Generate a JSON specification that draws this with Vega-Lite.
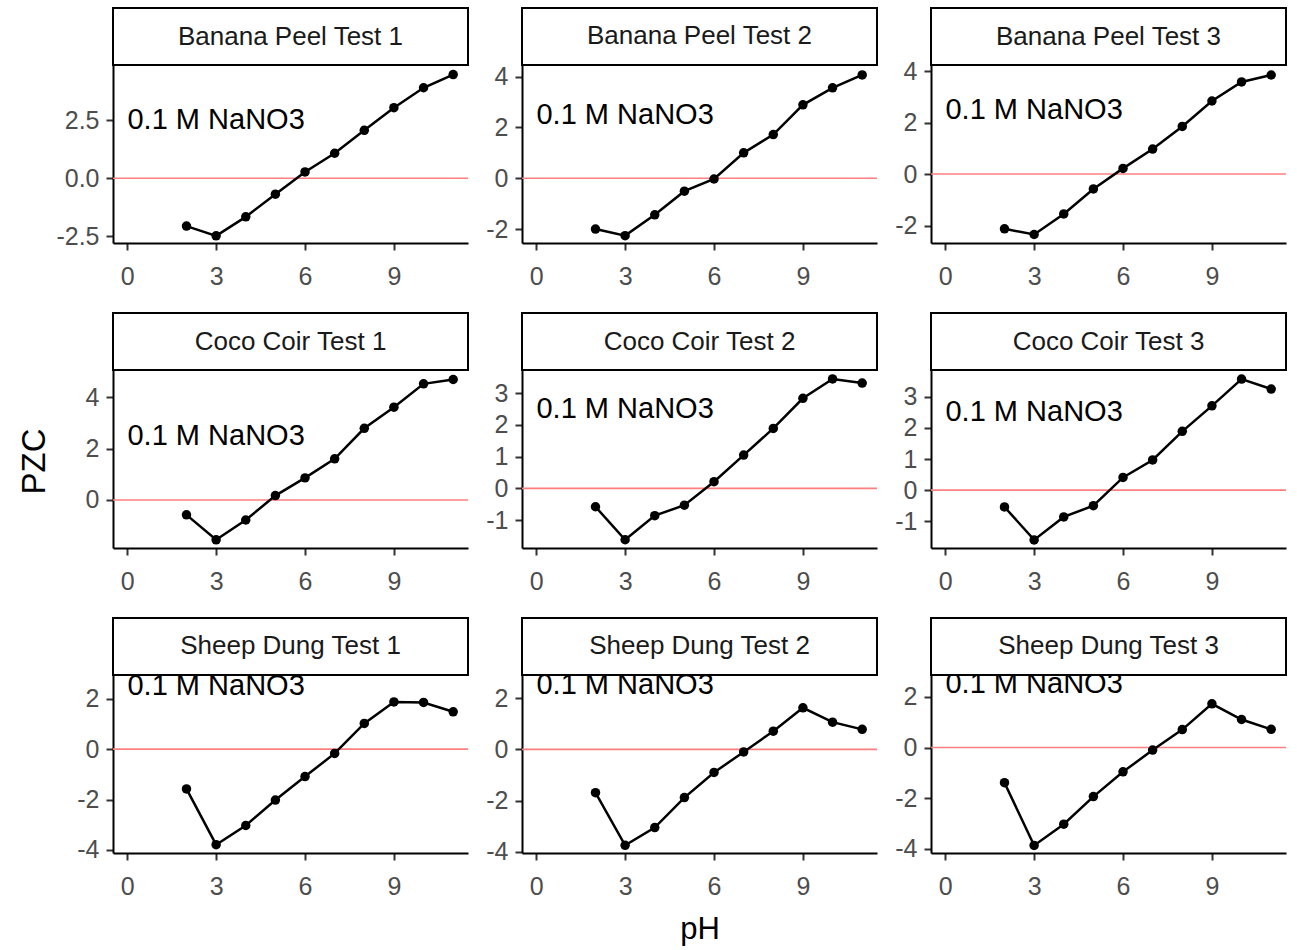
{
  "$schema": "https://vega.github.io/schema/vega-lite/v6.json",
  "background": "white",
  "padding": {"left": 18, "top": 7, "right": 5, "bottom": 5},
  "config": {
    "font": "Liberation Sans",
    "view": {"stroke": null},
    "axis": {
      "grid": false, "domainColor": "black", "domainWidth": 2,
      "tickColor": "#333333", "tickWidth": 2, "tickSize": 7,
      "labelColor": "#4D4D4D", "labelFontSize": 25, "labelFont": "Liberation Sans",
      "labelOverlap": false, "labelFlush": false,
      "titleFont": "Liberation Sans", "titleFontSize": 31, "titleFontWeight": "normal", "titleColor": "black"
    },
    "axisX": {"labelPadding": 14},
    "axisY": {"labelPadding": 7}
  },
  "datasets": {
    "panels": [
      {"panel": "Banana Peel Test 1", "note": "0.1 M NaNO3"},
      {"panel": "Banana Peel Test 2", "note": "0.1 M NaNO3"},
      {"panel": "Banana Peel Test 3", "note": "0.1 M NaNO3"},
      {"panel": "Coco Coir Test 1", "note": "0.1 M NaNO3"},
      {"panel": "Coco Coir Test 2", "note": "0.1 M NaNO3"},
      {"panel": "Coco Coir Test 3", "note": "0.1 M NaNO3"},
      {"panel": "Sheep Dung Test 1", "note": "0.1 M NaNO3"},
      {"panel": "Sheep Dung Test 2", "note": "0.1 M NaNO3"},
      {"panel": "Sheep Dung Test 3", "note": "0.1 M NaNO3"}
    ],
    "pzc": [
      {"panel": "Banana Peel Test 1", "pH": 2, "PZC": -2.07},
      {"panel": "Banana Peel Test 1", "pH": 3, "PZC": -2.49},
      {"panel": "Banana Peel Test 1", "pH": 4, "PZC": -1.67},
      {"panel": "Banana Peel Test 1", "pH": 5, "PZC": -0.69},
      {"panel": "Banana Peel Test 1", "pH": 6, "PZC": 0.27},
      {"panel": "Banana Peel Test 1", "pH": 7, "PZC": 1.08},
      {"panel": "Banana Peel Test 1", "pH": 8, "PZC": 2.07},
      {"panel": "Banana Peel Test 1", "pH": 9, "PZC": 3.05},
      {"panel": "Banana Peel Test 1", "pH": 10, "PZC": 3.91},
      {"panel": "Banana Peel Test 1", "pH": 11, "PZC": 4.48},
      {"panel": "Banana Peel Test 2", "pH": 2, "PZC": -2.0},
      {"panel": "Banana Peel Test 2", "pH": 3, "PZC": -2.26},
      {"panel": "Banana Peel Test 2", "pH": 4, "PZC": -1.44},
      {"panel": "Banana Peel Test 2", "pH": 5, "PZC": -0.51},
      {"panel": "Banana Peel Test 2", "pH": 6, "PZC": -0.03},
      {"panel": "Banana Peel Test 2", "pH": 7, "PZC": 1.0},
      {"panel": "Banana Peel Test 2", "pH": 8, "PZC": 1.72},
      {"panel": "Banana Peel Test 2", "pH": 9, "PZC": 2.89},
      {"panel": "Banana Peel Test 2", "pH": 10, "PZC": 3.56},
      {"panel": "Banana Peel Test 2", "pH": 11, "PZC": 4.07},
      {"panel": "Banana Peel Test 3", "pH": 2, "PZC": -2.13},
      {"panel": "Banana Peel Test 3", "pH": 3, "PZC": -2.35},
      {"panel": "Banana Peel Test 3", "pH": 4, "PZC": -1.55},
      {"panel": "Banana Peel Test 3", "pH": 5, "PZC": -0.58},
      {"panel": "Banana Peel Test 3", "pH": 6, "PZC": 0.22},
      {"panel": "Banana Peel Test 3", "pH": 7, "PZC": 0.97},
      {"panel": "Banana Peel Test 3", "pH": 8, "PZC": 1.85},
      {"panel": "Banana Peel Test 3", "pH": 9, "PZC": 2.84},
      {"panel": "Banana Peel Test 3", "pH": 10, "PZC": 3.58},
      {"panel": "Banana Peel Test 3", "pH": 11, "PZC": 3.85},
      {"panel": "Coco Coir Test 1", "pH": 2, "PZC": -0.58},
      {"panel": "Coco Coir Test 1", "pH": 3, "PZC": -1.55},
      {"panel": "Coco Coir Test 1", "pH": 4, "PZC": -0.78},
      {"panel": "Coco Coir Test 1", "pH": 5, "PZC": 0.17},
      {"panel": "Coco Coir Test 1", "pH": 6, "PZC": 0.86},
      {"panel": "Coco Coir Test 1", "pH": 7, "PZC": 1.6},
      {"panel": "Coco Coir Test 1", "pH": 8, "PZC": 2.79},
      {"panel": "Coco Coir Test 1", "pH": 9, "PZC": 3.61},
      {"panel": "Coco Coir Test 1", "pH": 10, "PZC": 4.52},
      {"panel": "Coco Coir Test 1", "pH": 11, "PZC": 4.69},
      {"panel": "Coco Coir Test 2", "pH": 2, "PZC": -0.58},
      {"panel": "Coco Coir Test 2", "pH": 3, "PZC": -1.62},
      {"panel": "Coco Coir Test 2", "pH": 4, "PZC": -0.86},
      {"panel": "Coco Coir Test 2", "pH": 5, "PZC": -0.53},
      {"panel": "Coco Coir Test 2", "pH": 6, "PZC": 0.21},
      {"panel": "Coco Coir Test 2", "pH": 7, "PZC": 1.05},
      {"panel": "Coco Coir Test 2", "pH": 8, "PZC": 1.89},
      {"panel": "Coco Coir Test 2", "pH": 9, "PZC": 2.84},
      {"panel": "Coco Coir Test 2", "pH": 10, "PZC": 3.45},
      {"panel": "Coco Coir Test 2", "pH": 11, "PZC": 3.32},
      {"panel": "Coco Coir Test 3", "pH": 2, "PZC": -0.54},
      {"panel": "Coco Coir Test 3", "pH": 3, "PZC": -1.6},
      {"panel": "Coco Coir Test 3", "pH": 4, "PZC": -0.86},
      {"panel": "Coco Coir Test 3", "pH": 5, "PZC": -0.5},
      {"panel": "Coco Coir Test 3", "pH": 6, "PZC": 0.41},
      {"panel": "Coco Coir Test 3", "pH": 7, "PZC": 0.97},
      {"panel": "Coco Coir Test 3", "pH": 8, "PZC": 1.89},
      {"panel": "Coco Coir Test 3", "pH": 9, "PZC": 2.71},
      {"panel": "Coco Coir Test 3", "pH": 10, "PZC": 3.57},
      {"panel": "Coco Coir Test 3", "pH": 11, "PZC": 3.25},
      {"panel": "Sheep Dung Test 1", "pH": 2, "PZC": -1.58},
      {"panel": "Sheep Dung Test 1", "pH": 3, "PZC": -3.79},
      {"panel": "Sheep Dung Test 1", "pH": 4, "PZC": -3.03},
      {"panel": "Sheep Dung Test 1", "pH": 5, "PZC": -2.02},
      {"panel": "Sheep Dung Test 1", "pH": 6, "PZC": -1.09},
      {"panel": "Sheep Dung Test 1", "pH": 7, "PZC": -0.17},
      {"panel": "Sheep Dung Test 1", "pH": 8, "PZC": 1.02},
      {"panel": "Sheep Dung Test 1", "pH": 9, "PZC": 1.87},
      {"panel": "Sheep Dung Test 1", "pH": 10, "PZC": 1.85},
      {"panel": "Sheep Dung Test 1", "pH": 11, "PZC": 1.48},
      {"panel": "Sheep Dung Test 2", "pH": 2, "PZC": -1.69},
      {"panel": "Sheep Dung Test 2", "pH": 3, "PZC": -3.74},
      {"panel": "Sheep Dung Test 2", "pH": 4, "PZC": -3.05},
      {"panel": "Sheep Dung Test 2", "pH": 5, "PZC": -1.88},
      {"panel": "Sheep Dung Test 2", "pH": 6, "PZC": -0.9},
      {"panel": "Sheep Dung Test 2", "pH": 7, "PZC": -0.1},
      {"panel": "Sheep Dung Test 2", "pH": 8, "PZC": 0.71},
      {"panel": "Sheep Dung Test 2", "pH": 9, "PZC": 1.62},
      {"panel": "Sheep Dung Test 2", "pH": 10, "PZC": 1.06},
      {"panel": "Sheep Dung Test 2", "pH": 11, "PZC": 0.78},
      {"panel": "Sheep Dung Test 3", "pH": 2, "PZC": -1.39},
      {"panel": "Sheep Dung Test 3", "pH": 3, "PZC": -3.87},
      {"panel": "Sheep Dung Test 3", "pH": 4, "PZC": -3.03},
      {"panel": "Sheep Dung Test 3", "pH": 5, "PZC": -1.94},
      {"panel": "Sheep Dung Test 3", "pH": 6, "PZC": -0.96},
      {"panel": "Sheep Dung Test 3", "pH": 7, "PZC": -0.1},
      {"panel": "Sheep Dung Test 3", "pH": 8, "PZC": 0.71},
      {"panel": "Sheep Dung Test 3", "pH": 9, "PZC": 1.73},
      {"panel": "Sheep Dung Test 3", "pH": 10, "PZC": 1.11},
      {"panel": "Sheep Dung Test 3", "pH": 11, "PZC": 0.72}
    ]
  },
  "columns": 3,
  "spacing": {"row": 70, "column": 54},
  "bounds": "flush",
  "concat": [
    {
      "width": 355, "height": 235,
      "layer": [
        {"data": {"name": "panels"}, "transform": [{"filter": "datum.panel === 'Banana Peel Test 1'"}], "mark": {"type": "rule", "color": "#FF7F7F", "strokeWidth": 1.6}, "encoding": {"y": {"datum": 0, "type": "quantitative"}}},
        {"data": {"name": "pzc"}, "transform": [{"filter": "datum.panel === 'Banana Peel Test 1'"}], "mark": {"type": "line", "color": "black", "strokeWidth": 2.5},
          "encoding": {
            "x": {"field": "pH", "type": "quantitative", "scale": {"domain": [-0.48, 11.5], "nice": false, "zero": false}, "axis": {"values": [0, 3, 6, 9], "title": null}},
            "y": {"field": "PZC", "type": "quantitative", "scale": {"domain": [-2.8, 7.357], "nice": false, "zero": false}, "axis": {"values": [-2.5, 0, 2.5], "format": ".1f", "labelExpr": "replace(datum.label, '\u2212', '-')", "title": null}}
          }},
        {"data": {"name": "pzc"}, "transform": [{"filter": "datum.panel === 'Banana Peel Test 1'"}], "mark": {"type": "point", "filled": true, "color": "black", "size": 90, "opacity": 1}, "encoding": {"x": {"field": "pH", "type": "quantitative"}, "y": {"field": "PZC", "type": "quantitative"}}},
        {"data": {"name": "panels"}, "transform": [{"filter": "datum.panel === 'Banana Peel Test 1'"}], "mark": {"type": "text", "fontSize": 29, "color": "black"}, "encoding": {"x": {"datum": 3, "type": "quantitative"}, "y": {"datum": 2.5, "type": "quantitative"}, "text": {"field": "note"}}},
        {"data": {"name": "panels"}, "transform": [{"filter": "datum.panel === 'Banana Peel Test 1'"}], "mark": {"type": "rect", "fill": "white", "stroke": "black", "strokeWidth": 2}, "encoding": {"x": {"datum": -0.48, "type": "quantitative"}, "x2": {"datum": 11.5}, "y": {"datum": 7.357, "type": "quantitative"}, "y2": {"datum": 4.893}}},
        {"data": {"name": "panels"}, "transform": [{"filter": "datum.panel === 'Banana Peel Test 1'"}], "mark": {"type": "text", "fontSize": 26, "color": "#1A1A1A"}, "encoding": {"x": {"datum": 5.51, "type": "quantitative"}, "y": {"datum": 6.125, "type": "quantitative"}, "text": {"field": "panel"}}}
      ]
    },
    {
      "width": 355, "height": 235,
      "layer": [
        {"data": {"name": "panels"}, "transform": [{"filter": "datum.panel === 'Banana Peel Test 2'"}], "mark": {"type": "rule", "color": "#FF7F7F", "strokeWidth": 1.6}, "encoding": {"y": {"datum": 0, "type": "quantitative"}}},
        {"data": {"name": "pzc"}, "transform": [{"filter": "datum.panel === 'Banana Peel Test 2'"}], "mark": {"type": "line", "color": "black", "strokeWidth": 2.5},
          "encoding": {
            "x": {"field": "pH", "type": "quantitative", "scale": {"domain": [-0.48, 11.5], "nice": false, "zero": false}, "axis": {"values": [0, 3, 6, 9], "title": null}},
            "y": {"field": "PZC", "type": "quantitative", "scale": {"domain": [-2.55, 6.704], "nice": false, "zero": false}, "axis": {"values": [-2, 0, 2, 4], "format": "d", "labelExpr": "replace(datum.label, '\u2212', '-')", "title": null}}
          }},
        {"data": {"name": "pzc"}, "transform": [{"filter": "datum.panel === 'Banana Peel Test 2'"}], "mark": {"type": "point", "filled": true, "color": "black", "size": 90, "opacity": 1}, "encoding": {"x": {"field": "pH", "type": "quantitative"}, "y": {"field": "PZC", "type": "quantitative"}}},
        {"data": {"name": "panels"}, "transform": [{"filter": "datum.panel === 'Banana Peel Test 2'"}], "mark": {"type": "text", "fontSize": 29, "color": "black"}, "encoding": {"x": {"datum": 3, "type": "quantitative"}, "y": {"datum": 2.5, "type": "quantitative"}, "text": {"field": "note"}}},
        {"data": {"name": "panels"}, "transform": [{"filter": "datum.panel === 'Banana Peel Test 2'"}], "mark": {"type": "rect", "fill": "white", "stroke": "black", "strokeWidth": 2}, "encoding": {"x": {"datum": -0.48, "type": "quantitative"}, "x2": {"datum": 11.5}, "y": {"datum": 6.704, "type": "quantitative"}, "y2": {"datum": 4.459}}},
        {"data": {"name": "panels"}, "transform": [{"filter": "datum.panel === 'Banana Peel Test 2'"}], "mark": {"type": "text", "fontSize": 26, "color": "#1A1A1A"}, "encoding": {"x": {"datum": 5.51, "type": "quantitative"}, "y": {"datum": 5.582, "type": "quantitative"}, "text": {"field": "panel"}}}
      ]
    },
    {
      "width": 355, "height": 235,
      "layer": [
        {"data": {"name": "panels"}, "transform": [{"filter": "datum.panel === 'Banana Peel Test 3'"}], "mark": {"type": "rule", "color": "#FF7F7F", "strokeWidth": 1.6}, "encoding": {"y": {"datum": 0, "type": "quantitative"}}},
        {"data": {"name": "pzc"}, "transform": [{"filter": "datum.panel === 'Banana Peel Test 3'"}], "mark": {"type": "line", "color": "black", "strokeWidth": 2.5},
          "encoding": {
            "x": {"field": "pH", "type": "quantitative", "scale": {"domain": [-0.48, 11.5], "nice": false, "zero": false}, "axis": {"values": [0, 3, 6, 9], "title": null}},
            "y": {"field": "PZC", "type": "quantitative", "scale": {"domain": [-2.68, 6.455], "nice": false, "zero": false}, "axis": {"values": [-2, 0, 2, 4], "format": "d", "labelExpr": "replace(datum.label, '\u2212', '-')", "title": null}}
          }},
        {"data": {"name": "pzc"}, "transform": [{"filter": "datum.panel === 'Banana Peel Test 3'"}], "mark": {"type": "point", "filled": true, "color": "black", "size": 90, "opacity": 1}, "encoding": {"x": {"field": "pH", "type": "quantitative"}, "y": {"field": "PZC", "type": "quantitative"}}},
        {"data": {"name": "panels"}, "transform": [{"filter": "datum.panel === 'Banana Peel Test 3'"}], "mark": {"type": "text", "fontSize": 29, "color": "black"}, "encoding": {"x": {"datum": 3, "type": "quantitative"}, "y": {"datum": 2.5, "type": "quantitative"}, "text": {"field": "note"}}},
        {"data": {"name": "panels"}, "transform": [{"filter": "datum.panel === 'Banana Peel Test 3'"}], "mark": {"type": "rect", "fill": "white", "stroke": "black", "strokeWidth": 2}, "encoding": {"x": {"datum": -0.48, "type": "quantitative"}, "x2": {"datum": 11.5}, "y": {"datum": 6.455, "type": "quantitative"}, "y2": {"datum": 4.239}}},
        {"data": {"name": "panels"}, "transform": [{"filter": "datum.panel === 'Banana Peel Test 3'"}], "mark": {"type": "text", "fontSize": 26, "color": "#1A1A1A"}, "encoding": {"x": {"datum": 5.51, "type": "quantitative"}, "y": {"datum": 5.347, "type": "quantitative"}, "text": {"field": "panel"}}}
      ]
    },
    {
      "width": 355, "height": 235,
      "layer": [
        {"data": {"name": "panels"}, "transform": [{"filter": "datum.panel === 'Coco Coir Test 1'"}], "mark": {"type": "rule", "color": "#FF7F7F", "strokeWidth": 1.6}, "encoding": {"y": {"datum": 0, "type": "quantitative"}}},
        {"data": {"name": "pzc"}, "transform": [{"filter": "datum.panel === 'Coco Coir Test 1'"}], "mark": {"type": "line", "color": "black", "strokeWidth": 2.5},
          "encoding": {
            "x": {"field": "pH", "type": "quantitative", "scale": {"domain": [-0.48, 11.5], "nice": false, "zero": false}, "axis": {"values": [0, 3, 6, 9], "title": null}},
            "y": {"field": "PZC", "type": "quantitative", "scale": {"domain": [-1.87, 7.278], "nice": false, "zero": false}, "axis": {"values": [0, 2, 4], "format": "d", "labelExpr": "replace(datum.label, '\u2212', '-')", "title": "PZC", "titleFontSize": 33, "titlePadding": 34, "titleY": 148}}
          }},
        {"data": {"name": "pzc"}, "transform": [{"filter": "datum.panel === 'Coco Coir Test 1'"}], "mark": {"type": "point", "filled": true, "color": "black", "size": 90, "opacity": 1}, "encoding": {"x": {"field": "pH", "type": "quantitative"}, "y": {"field": "PZC", "type": "quantitative"}}},
        {"data": {"name": "panels"}, "transform": [{"filter": "datum.panel === 'Coco Coir Test 1'"}], "mark": {"type": "text", "fontSize": 29, "color": "black"}, "encoding": {"x": {"datum": 3, "type": "quantitative"}, "y": {"datum": 2.5, "type": "quantitative"}, "text": {"field": "note"}}},
        {"data": {"name": "panels"}, "transform": [{"filter": "datum.panel === 'Coco Coir Test 1'"}], "mark": {"type": "rect", "fill": "white", "stroke": "black", "strokeWidth": 2}, "encoding": {"x": {"datum": -0.48, "type": "quantitative"}, "x2": {"datum": 11.5}, "y": {"datum": 7.278, "type": "quantitative"}, "y2": {"datum": 5.059}}},
        {"data": {"name": "panels"}, "transform": [{"filter": "datum.panel === 'Coco Coir Test 1'"}], "mark": {"type": "text", "fontSize": 26, "color": "#1A1A1A"}, "encoding": {"x": {"datum": 5.51, "type": "quantitative"}, "y": {"datum": 6.168, "type": "quantitative"}, "text": {"field": "panel"}}}
      ]
    },
    {
      "width": 355, "height": 235,
      "layer": [
        {"data": {"name": "panels"}, "transform": [{"filter": "datum.panel === 'Coco Coir Test 2'"}], "mark": {"type": "rule", "color": "#FF7F7F", "strokeWidth": 1.6}, "encoding": {"y": {"datum": 0, "type": "quantitative"}}},
        {"data": {"name": "pzc"}, "transform": [{"filter": "datum.panel === 'Coco Coir Test 2'"}], "mark": {"type": "line", "color": "black", "strokeWidth": 2.5},
          "encoding": {
            "x": {"field": "pH", "type": "quantitative", "scale": {"domain": [-0.48, 11.5], "nice": false, "zero": false}, "axis": {"values": [0, 3, 6, 9], "title": null}},
            "y": {"field": "PZC", "type": "quantitative", "scale": {"domain": [-1.88, 5.529], "nice": false, "zero": false}, "axis": {"values": [-1, 0, 1, 2, 3], "format": "d", "labelExpr": "replace(datum.label, '\u2212', '-')", "title": null}}
          }},
        {"data": {"name": "pzc"}, "transform": [{"filter": "datum.panel === 'Coco Coir Test 2'"}], "mark": {"type": "point", "filled": true, "color": "black", "size": 90, "opacity": 1}, "encoding": {"x": {"field": "pH", "type": "quantitative"}, "y": {"field": "PZC", "type": "quantitative"}}},
        {"data": {"name": "panels"}, "transform": [{"filter": "datum.panel === 'Coco Coir Test 2'"}], "mark": {"type": "text", "fontSize": 29, "color": "black"}, "encoding": {"x": {"datum": 3, "type": "quantitative"}, "y": {"datum": 2.5, "type": "quantitative"}, "text": {"field": "note"}}},
        {"data": {"name": "panels"}, "transform": [{"filter": "datum.panel === 'Coco Coir Test 2'"}], "mark": {"type": "rect", "fill": "white", "stroke": "black", "strokeWidth": 2}, "encoding": {"x": {"datum": -0.48, "type": "quantitative"}, "x2": {"datum": 11.5}, "y": {"datum": 5.529, "type": "quantitative"}, "y2": {"datum": 3.732}}},
        {"data": {"name": "panels"}, "transform": [{"filter": "datum.panel === 'Coco Coir Test 2'"}], "mark": {"type": "text", "fontSize": 26, "color": "#1A1A1A"}, "encoding": {"x": {"datum": 5.51, "type": "quantitative"}, "y": {"datum": 4.63, "type": "quantitative"}, "text": {"field": "panel"}}}
      ]
    },
    {
      "width": 355, "height": 235,
      "layer": [
        {"data": {"name": "panels"}, "transform": [{"filter": "datum.panel === 'Coco Coir Test 3'"}], "mark": {"type": "rule", "color": "#FF7F7F", "strokeWidth": 1.6}, "encoding": {"y": {"datum": 0, "type": "quantitative"}}},
        {"data": {"name": "pzc"}, "transform": [{"filter": "datum.panel === 'Coco Coir Test 3'"}], "mark": {"type": "line", "color": "black", "strokeWidth": 2.5},
          "encoding": {
            "x": {"field": "pH", "type": "quantitative", "scale": {"domain": [-0.48, 11.5], "nice": false, "zero": false}, "axis": {"values": [0, 3, 6, 9], "title": null}},
            "y": {"field": "PZC", "type": "quantitative", "scale": {"domain": [-1.86, 5.695], "nice": false, "zero": false}, "axis": {"values": [-1, 0, 1, 2, 3], "format": "d", "labelExpr": "replace(datum.label, '\u2212', '-')", "title": null}}
          }},
        {"data": {"name": "pzc"}, "transform": [{"filter": "datum.panel === 'Coco Coir Test 3'"}], "mark": {"type": "point", "filled": true, "color": "black", "size": 90, "opacity": 1}, "encoding": {"x": {"field": "pH", "type": "quantitative"}, "y": {"field": "PZC", "type": "quantitative"}}},
        {"data": {"name": "panels"}, "transform": [{"filter": "datum.panel === 'Coco Coir Test 3'"}], "mark": {"type": "text", "fontSize": 29, "color": "black"}, "encoding": {"x": {"datum": 3, "type": "quantitative"}, "y": {"datum": 2.5, "type": "quantitative"}, "text": {"field": "note"}}},
        {"data": {"name": "panels"}, "transform": [{"filter": "datum.panel === 'Coco Coir Test 3'"}], "mark": {"type": "rect", "fill": "white", "stroke": "black", "strokeWidth": 2}, "encoding": {"x": {"datum": -0.48, "type": "quantitative"}, "x2": {"datum": 11.5}, "y": {"datum": 5.695, "type": "quantitative"}, "y2": {"datum": 3.862}}},
        {"data": {"name": "panels"}, "transform": [{"filter": "datum.panel === 'Coco Coir Test 3'"}], "mark": {"type": "text", "fontSize": 26, "color": "#1A1A1A"}, "encoding": {"x": {"datum": 5.51, "type": "quantitative"}, "y": {"datum": 4.778, "type": "quantitative"}, "text": {"field": "panel"}}}
      ]
    },
    {
      "width": 355, "height": 235,
      "layer": [
        {"data": {"name": "panels"}, "transform": [{"filter": "datum.panel === 'Sheep Dung Test 1'"}], "mark": {"type": "rule", "color": "#FF7F7F", "strokeWidth": 1.6}, "encoding": {"y": {"datum": 0, "type": "quantitative"}}},
        {"data": {"name": "pzc"}, "transform": [{"filter": "datum.panel === 'Sheep Dung Test 1'"}], "mark": {"type": "line", "color": "black", "strokeWidth": 2.5},
          "encoding": {
            "x": {"field": "pH", "type": "quantitative", "scale": {"domain": [-0.48, 11.5], "nice": false, "zero": false}, "axis": {"values": [0, 3, 6, 9], "title": null}},
            "y": {"field": "PZC", "type": "quantitative", "scale": {"domain": [-4.12, 5.2], "nice": false, "zero": false}, "axis": {"values": [-4, -2, 0, 2], "format": "d", "labelExpr": "replace(datum.label, '\u2212', '-')", "title": null}}
          }},
        {"data": {"name": "pzc"}, "transform": [{"filter": "datum.panel === 'Sheep Dung Test 1'"}], "mark": {"type": "point", "filled": true, "color": "black", "size": 90, "opacity": 1}, "encoding": {"x": {"field": "pH", "type": "quantitative"}, "y": {"field": "PZC", "type": "quantitative"}}},
        {"data": {"name": "panels"}, "transform": [{"filter": "datum.panel === 'Sheep Dung Test 1'"}], "mark": {"type": "text", "fontSize": 29, "color": "black"}, "encoding": {"x": {"datum": 3, "type": "quantitative"}, "y": {"datum": 2.5, "type": "quantitative"}, "text": {"field": "note"}}},
        {"data": {"name": "panels"}, "transform": [{"filter": "datum.panel === 'Sheep Dung Test 1'"}], "mark": {"type": "rect", "fill": "white", "stroke": "black", "strokeWidth": 2}, "encoding": {"x": {"datum": -0.48, "type": "quantitative"}, "x2": {"datum": 11.5}, "y": {"datum": 5.2, "type": "quantitative"}, "y2": {"datum": 2.94}}},
        {"data": {"name": "panels"}, "transform": [{"filter": "datum.panel === 'Sheep Dung Test 1'"}], "mark": {"type": "text", "fontSize": 26, "color": "#1A1A1A"}, "encoding": {"x": {"datum": 5.51, "type": "quantitative"}, "y": {"datum": 4.07, "type": "quantitative"}, "text": {"field": "panel"}}}
      ]
    },
    {
      "width": 355, "height": 235,
      "layer": [
        {"data": {"name": "panels"}, "transform": [{"filter": "datum.panel === 'Sheep Dung Test 2'"}], "mark": {"type": "rule", "color": "#FF7F7F", "strokeWidth": 1.6}, "encoding": {"y": {"datum": 0, "type": "quantitative"}}},
        {"data": {"name": "pzc"}, "transform": [{"filter": "datum.panel === 'Sheep Dung Test 2'"}], "mark": {"type": "line", "color": "black", "strokeWidth": 2.5},
          "encoding": {
            "x": {"field": "pH", "type": "quantitative", "scale": {"domain": [-0.48, 11.5], "nice": false, "zero": false}, "axis": {"values": [0, 3, 6, 9], "title": "pH", "titlePadding": 15}},
            "y": {"field": "PZC", "type": "quantitative", "scale": {"domain": [-4.04, 5.121], "nice": false, "zero": false}, "axis": {"values": [-4, -2, 0, 2], "format": "d", "labelExpr": "replace(datum.label, '\u2212', '-')", "title": null}}
          }},
        {"data": {"name": "pzc"}, "transform": [{"filter": "datum.panel === 'Sheep Dung Test 2'"}], "mark": {"type": "point", "filled": true, "color": "black", "size": 90, "opacity": 1}, "encoding": {"x": {"field": "pH", "type": "quantitative"}, "y": {"field": "PZC", "type": "quantitative"}}},
        {"data": {"name": "panels"}, "transform": [{"filter": "datum.panel === 'Sheep Dung Test 2'"}], "mark": {"type": "text", "fontSize": 29, "color": "black"}, "encoding": {"x": {"datum": 3, "type": "quantitative"}, "y": {"datum": 2.5, "type": "quantitative"}, "text": {"field": "note"}}},
        {"data": {"name": "panels"}, "transform": [{"filter": "datum.panel === 'Sheep Dung Test 2'"}], "mark": {"type": "rect", "fill": "white", "stroke": "black", "strokeWidth": 2}, "encoding": {"x": {"datum": -0.48, "type": "quantitative"}, "x2": {"datum": 11.5}, "y": {"datum": 5.121, "type": "quantitative"}, "y2": {"datum": 2.899}}},
        {"data": {"name": "panels"}, "transform": [{"filter": "datum.panel === 'Sheep Dung Test 2'"}], "mark": {"type": "text", "fontSize": 26, "color": "#1A1A1A"}, "encoding": {"x": {"datum": 5.51, "type": "quantitative"}, "y": {"datum": 4.01, "type": "quantitative"}, "text": {"field": "panel"}}}
      ]
    },
    {
      "width": 355, "height": 235,
      "layer": [
        {"data": {"name": "panels"}, "transform": [{"filter": "datum.panel === 'Sheep Dung Test 3'"}], "mark": {"type": "rule", "color": "#FF7F7F", "strokeWidth": 1.6}, "encoding": {"y": {"datum": 0, "type": "quantitative"}}},
        {"data": {"name": "pzc"}, "transform": [{"filter": "datum.panel === 'Sheep Dung Test 3'"}], "mark": {"type": "line", "color": "black", "strokeWidth": 2.5},
          "encoding": {
            "x": {"field": "pH", "type": "quantitative", "scale": {"domain": [-0.48, 11.5], "nice": false, "zero": false}, "axis": {"values": [0, 3, 6, 9], "title": null}},
            "y": {"field": "PZC", "type": "quantitative", "scale": {"domain": [-4.17, 5.124], "nice": false, "zero": false}, "axis": {"values": [-4, -2, 0, 2], "format": "d", "labelExpr": "replace(datum.label, '\u2212', '-')", "title": null}}
          }},
        {"data": {"name": "pzc"}, "transform": [{"filter": "datum.panel === 'Sheep Dung Test 3'"}], "mark": {"type": "point", "filled": true, "color": "black", "size": 90, "opacity": 1}, "encoding": {"x": {"field": "pH", "type": "quantitative"}, "y": {"field": "PZC", "type": "quantitative"}}},
        {"data": {"name": "panels"}, "transform": [{"filter": "datum.panel === 'Sheep Dung Test 3'"}], "mark": {"type": "text", "fontSize": 29, "color": "black"}, "encoding": {"x": {"datum": 3, "type": "quantitative"}, "y": {"datum": 2.5, "type": "quantitative"}, "text": {"field": "note"}}},
        {"data": {"name": "panels"}, "transform": [{"filter": "datum.panel === 'Sheep Dung Test 3'"}], "mark": {"type": "rect", "fill": "white", "stroke": "black", "strokeWidth": 2}, "encoding": {"x": {"datum": -0.48, "type": "quantitative"}, "x2": {"datum": 11.5}, "y": {"datum": 5.124, "type": "quantitative"}, "y2": {"datum": 2.87}}},
        {"data": {"name": "panels"}, "transform": [{"filter": "datum.panel === 'Sheep Dung Test 3'"}], "mark": {"type": "text", "fontSize": 26, "color": "#1A1A1A"}, "encoding": {"x": {"datum": 5.51, "type": "quantitative"}, "y": {"datum": 3.997, "type": "quantitative"}, "text": {"field": "panel"}}}
      ]
    }
  ]
}
